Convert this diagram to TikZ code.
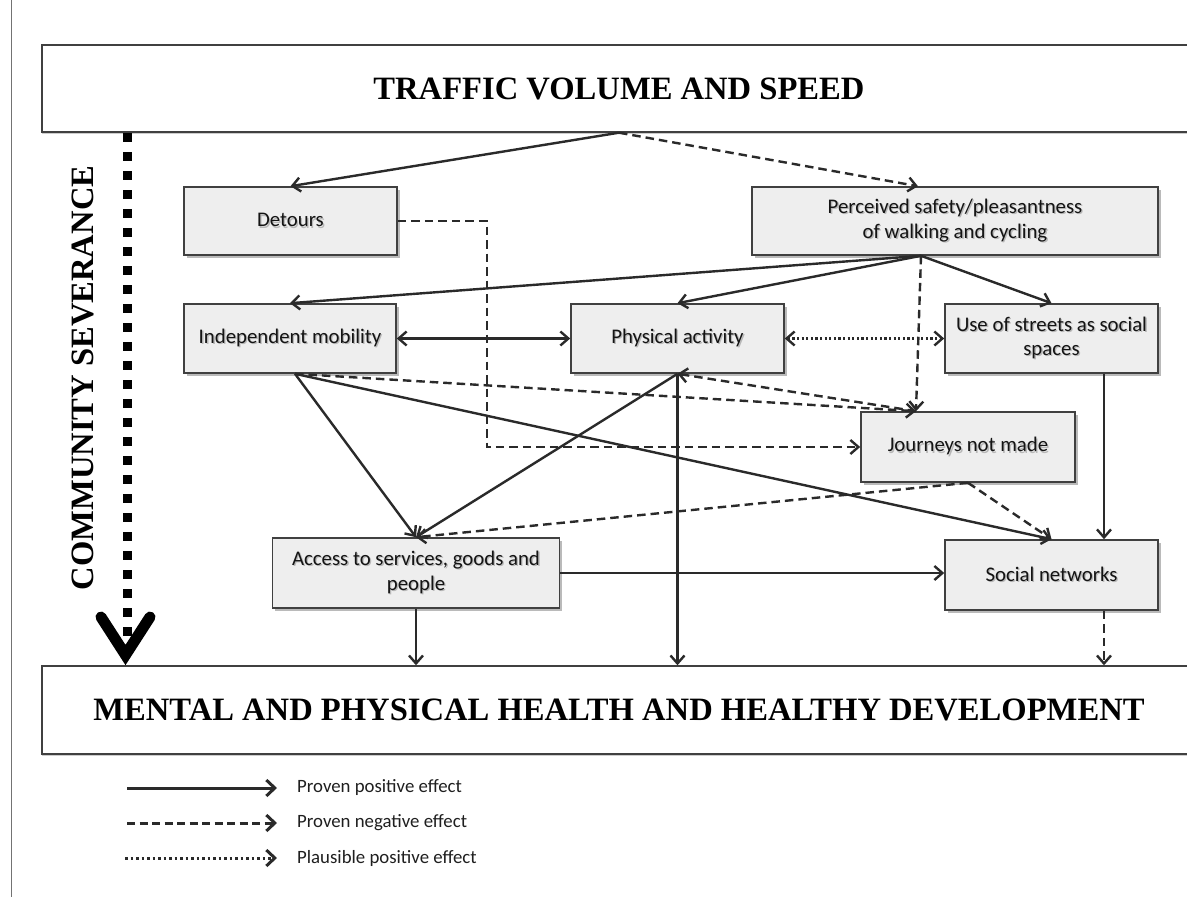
\documentclass[tikz,border=0pt]{standalone}
\usepackage{fontspec}
\setmainfont{Liberation Serif}
\newfontfamily\calib{Carlito}
\usetikzlibrary{arrows.meta,calc,shadows}
\definecolor{ln}{HTML}{2A2A2A}
\definecolor{boxfill}{HTML}{EEEEEE}
\definecolor{boxline}{HTML}{404040}
\newcommand{\shtext}[1]{\leavevmode\rlap{\raisebox{-1.3pt}{\hspace{1.3pt}\textcolor{black!28}{#1}}}#1}
\begin{document}
\begin{tikzpicture}[x=1pt,y=-1pt,
  >={Straight Barb[length=8pt,width=14pt]},
  box/.style={draw=boxline, line width=1.6pt, fill=boxfill, inner sep=0pt, align=center,
    font=\calib\fontsize{20.8}{24.5}\selectfont, text=black!92,
    drop shadow={shadow xshift=2.5pt, shadow yshift=-2.5pt, opacity=0.45, fill=black!60}},
  big/.style={draw=black!75, line width=1.4pt, fill=white, minimum width=1154pt, inner sep=0pt,
    font=\bfseries\fontsize{32.6}{36}\selectfont,
    drop shadow={shadow xshift=0pt, shadow yshift=-1.8pt, opacity=0.4}},
  conn/.style={draw=ln, line width=2.4pt, ->},
  poseff/.style={conn},
  negeff/.style={conn, dash pattern=on 8.5pt off 5pt},
  plauseff/.style={conn, dash pattern=on 2.2pt off 2.4pt},
  leg/.style={draw=ln, line width=3pt, -{Straight Barb[length=8.5pt,width=16pt]}},
  legtext/.style={anchor=west, inner sep=0pt, font=\calib\fontsize{18.8}{22}\selectfont, text=black!88},
  sevline/.style={black, line width=9pt, dash pattern=on 9pt off 10pt},
  sevhead/.style={black, line width=11pt, line cap=round, line join=miter}
]
\useasboundingbox (0,0) rectangle (1187,897);
\clip (0,0) rectangle (1187,897);
\fill[white] (0,0) rectangle (1187,897);

% left border line
\coordinate (bl1) at (11.5,0);
\coordinate (bl2) at (11.5,897);
\draw[black!55, line width=1.3pt] (bl1) -- (bl2);

% big boxes
\node[big, minimum height=87pt] (top) at (619,88.5) {TRAFFIC VOLUME AND SPEED};
\node[big, minimum height=88pt] (bot) at (619,710) {MENTAL AND PHYSICAL HEALTH AND HEALTHY DEVELOPMENT};

% boxes
\node[box, minimum width=213pt, minimum height=68pt] (det) at (290.5,221) {\shtext{Detours}};
\node[box, minimum width=406pt, minimum height=68pt] (perc) at (955,221) {\shtext{Perceived safety/pleasantness}\\\shtext{of walking and cycling}};
\node[box, minimum width=212pt, minimum height=69pt] (im) at (290,338.5) {\shtext{Independent mobility}};
\node[box, minimum width=213pt, minimum height=69pt] (pa) at (677.5,338.5) {\shtext{Physical activity}};
\node[box, minimum width=213pt, minimum height=69pt] (use) at (1051.5,338.5) {\shtext{Use of streets as social}\\\shtext{spaces}};
\node[box, minimum width=214pt, minimum height=70pt] (jour) at (968,447) {\shtext{Journeys not made}};
\node[box, minimum width=287pt, minimum height=70pt] (acc) at (416,573) {\shtext{Access to services, goods and}\\\shtext{people}};
\node[box, minimum width=213pt, minimum height=70pt] (sn) at (1051.5,575) {\shtext{Social networks}};

% community severance
\node[rotate=90, inner sep=0pt, font=\bfseries\fontsize{32.6}{36}\selectfont] (sevtext) at (82.5,378) {COMMUNITY SEVERANCE};
\coordinate (sevA) at (127,133);
\coordinate (sevB) at (127,637);
\coordinate (vL) at (101,617);
\coordinate (vV) at (125.5,655);
\coordinate (vR) at (150,617);
\draw[sevline] (sevA) -- (sevB);
\draw[sevhead] (vL) -- (vV) -- (vR);

% helper points
\coordinate (pt) at ($(perc.north)+(-37,0)$);
\coordinate (pb) at ($(perc.south)+(-34,0)$);
\coordinate (jt) at ($(jour.north)+(-52,0)$);
\coordinate (ib) at ($(im.south)+(5,0)$);
\coordinate (ub) at ($(use.south)+(52.5,0)$);
\coordinate (sb) at ($(sn.south)+(52.5,0)$);

% connectors
\draw[poseff] (top.south) -- (det.north);
\draw[negeff] (top.south) -- (pt);
\draw[negeff] (det.east) -- ++(89,0) |- (jour.west);
\draw[poseff] (pb) -- (im.north);
\draw[poseff] (pb) -- (pa.north);
\draw[poseff] (pb) -- (use.north);
\draw[negeff] (pb) -- (jt);
\draw[poseff,<->] (im.east) -- (pa.west);
\draw[plauseff,<->] (pa.east) -- (use.west);
\draw[negeff] (ib) -- (jt);
\draw[negeff] (jt) -- (pa.south);
\draw[poseff] (ib) -- (acc.north);
\draw[poseff] (ib) -- (sn.north);
\draw[poseff] (pa.south) -- (acc.north);
\draw[poseff] (pa.south) -- (pa.south |- bot.north);
\draw[negeff] (jour.south) -- (acc.north);
\draw[negeff] (jour.south) -- (sn.north);
\draw[poseff] (ub) -- (ub |- sn.north);
\draw[poseff] (acc.east) -- (acc.east -| sn.west);
\draw[poseff] (acc.south) -- (acc.south |- bot.north);
\draw[negeff] (sb) -- (sb |- bot.north);

% legend
\coordinate (l1a) at (127,788); \coordinate (l1b) at (277,788);
\coordinate (l2a) at (127,823); \coordinate (l2b) at (277,823);
\coordinate (l3a) at (125,858); \coordinate (l3b) at (277,858);
\draw[leg] (l1a) -- (l1b);
\draw[leg, dash pattern=on 8pt off 4.5pt] (l2a) -- (l2b);
\draw[leg, dash pattern=on 2.5pt off 3pt] (l3a) -- (l3b);
\node[legtext] (lt1) at (297,788) {Proven positive effect};
\node[legtext] (lt2) at (297,823) {Proven negative effect};
\node[legtext] (lt3) at (297,858) {Plausible positive effect};
\end{tikzpicture}
\end{document}
